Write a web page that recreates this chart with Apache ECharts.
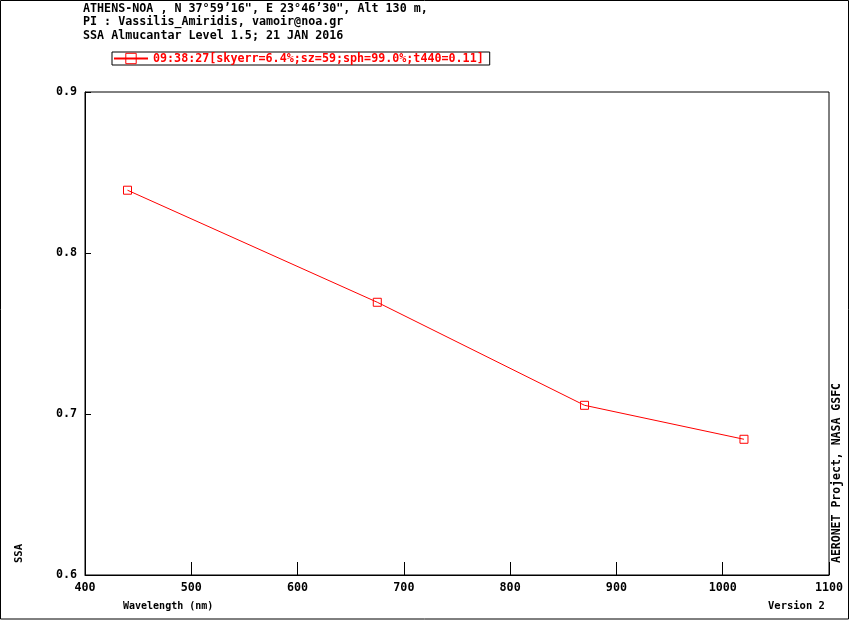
<!DOCTYPE html>
<html>
<head>
<meta charset="utf-8">
<script src="https://cdn.jsdelivr.net/npm/echarts@6/dist/echarts.min.js"></script>
<style>html,body{margin:0;padding:0;background:#fff;}#main{width:850px;height:620px;}</style>
</head>
<body>
<div id="main"></div>
<script>
var headerLines = [
  'ATHENS-NOA , N 37\u00b059\u201916", E 23\u00b046\u201930", Alt 130 m,',
  'PI : Vassilis_Amiridis, vamoir@noa.gr',
  'SSA Almucantar Level 1.5; 21 JAN 2016'
];
var seriesName = '09:38:27[skyerr=6.4%;sz=59;sph=99.0%;t440=0.11]';
var wavelengths = [440, 675, 870, 1020];
var ssaValues = [0.839, 0.7694, 0.7054, 0.6843];
var xTicks = {min: 400, max: 1100, interval: 100};
var yTicks = {min: 0.6, max: 0.9, interval: 0.1};

var FONT = 'DejaVu Sans Mono';
var chart = echarts.init(document.getElementById('main'));
var points = wavelengths.map(function (w, i) { return [w, ssaValues[i]]; });

chart.setOption({
  animation: false,
  backgroundColor: '#fff',
  title: {
    text: headerLines.join('\n'),
    left: 83, top: 2, padding: 0,
    textStyle: {fontFamily: FONT, fontWeight: 'bold', fontSize: 11.7, color: '#000', lineHeight: 13.5}
  },
  legend: {
    left: 112, top: 52,
    padding: [0, 6, 0, 1],
    borderColor: '#000', borderWidth: 1, borderRadius: 0,
    itemWidth: 34, itemHeight: 13, itemGap: 5,
    itemStyle: {borderWidth: 1, color: 'rgba(255,255,255,0)'},
    textStyle: {fontFamily: FONT, fontWeight: 'bold', fontSize: 11.7, color: '#ff0000', lineHeight: 13},
    data: [seriesName]
  },
  grid: {left: 85, top: 92, right: 21, bottom: 45, show: true, borderColor: '#000', borderWidth: 1, containLabel: false},
  xAxis: {
    type: 'value', min: xTicks.min, max: xTicks.max, interval: xTicks.interval,
    axisLine: {show: true, lineStyle: {color: '#000', width: 1}},
    axisTick: {show: true, inside: true, length: 13, lineStyle: {color: '#000'}},
    axisLabel: {margin: 7, fontFamily: FONT, fontWeight: 'bold', fontSize: 11.7, color: '#000',
      formatter: function (v) { return String(v); }},
    splitLine: {show: false}
  },
  yAxis: {
    type: 'value', min: yTicks.min, max: yTicks.max, interval: yTicks.interval,
    axisLine: {show: true, lineStyle: {color: '#000', width: 1}},
    axisTick: {show: true, inside: true, length: 6, lineStyle: {color: '#000'}},
    axisLabel: {margin: 8, fontFamily: FONT, fontWeight: 'bold', fontSize: 11.7, color: '#000',
      formatter: function (v) { return v.toFixed(1); }},
    splitLine: {show: false}
  },
  series: [{
    name: seriesName,
    type: 'line',
    data: points,
    symbol: 'rect',
    symbolSize: 8,
    showAllSymbol: true,
    lineStyle: {color: '#ff0000', width: 1},
    itemStyle: {color: 'rgba(255,255,255,0)', borderColor: '#ff0000', borderWidth: 1},
    emphasis: {disabled: true}
  }],
  graphic: [
    {type: 'rect', shape: {x: 0.5, y: 0.5, width: 848, height: 618.5}, style: {fill: null, stroke: '#000', lineWidth: 1}, silent: true, z: -1},
    {type: 'text', left: 123, top: 601, style: {text: 'Wavelength (nm)', font: 'bold 10px "DejaVu Sans Mono"', fill: '#000'}},
    {type: 'text', left: 768, top: 601, style: {text: 'Version 2', font: 'bold 10.5px "DejaVu Sans Mono"', fill: '#000'}},
    {type: 'text', x: 14, y: 563, rotation: Math.PI / 2, style: {text: 'SSA', font: 'bold 10.5px "DejaVu Sans Mono"', fill: '#000', verticalAlign: 'top', align: 'left'}},
    {type: 'text', x: 831, y: 563, rotation: Math.PI / 2, style: {text: 'AERONET Project, NASA GSFC', font: 'bold 11.5px "DejaVu Sans Mono"', fill: '#000', verticalAlign: 'top', align: 'left'}}
  ]
});
</script>
</body>
</html>
